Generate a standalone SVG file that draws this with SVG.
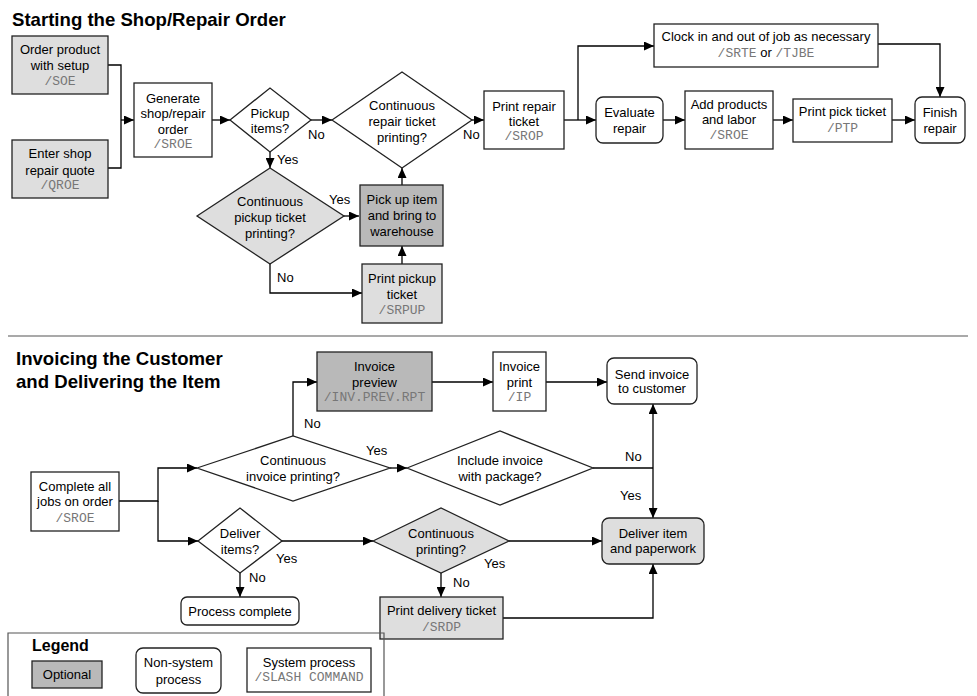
<svg xmlns="http://www.w3.org/2000/svg" width="977" height="696" viewBox="0 0 977 696">
<style>
.bg{fill:#ffffff}
.n{fill:#ffffff;stroke:#222;stroke-width:1.3}
.l{fill:#dedede;stroke:#222;stroke-width:1.3}
.d{fill:#b9b9b9;stroke:#222;stroke-width:1.3}
text{font-family:"Liberation Sans",Arial,sans-serif;font-size:13px;fill:#000}
.c{text-anchor:middle}
.m{font-family:"Liberation Mono","Courier New",monospace;font-size:13px;fill:#777}
.t{font-weight:bold;font-size:18.6px}
.lg{font-weight:bold;font-size:16px}
.e{fill:none;stroke:#000;stroke-width:1.3}
.sep{fill:none;stroke:#555;stroke-width:1.2}
</style>
<defs>
<marker id="a" markerUnits="userSpaceOnUse" markerWidth="11" markerHeight="9" refX="10" refY="4.5" orient="auto">
<path d="M0,0 L10,4.5 L0,9 z" fill="#000"/>
</marker>
</defs>
<rect class="bg" x="0" y="0" width="977" height="696"/>
<text class="t" x="12" y="26">Starting the Shop/Repair Order</text>
<text class="t" x="16" y="365">Invoicing the Customer</text>
<text class="t" x="16" y="388">and Delivering the Item</text>
<path class="sep" d="M8,336 H968"/>

<g id="connectors">
<path class="e" d="M108,65 H121 V168 H108"/>
<path class="e" d="M121,120 H134" marker-end="url(#a)"/>
<path class="e" d="M212,120 H230" marker-end="url(#a)"/>
<path class="e" d="M311,120 H332" marker-end="url(#a)"/>
<path class="e" d="M472,120 H484" marker-end="url(#a)"/>
<path class="e" d="M270,152 V168" marker-end="url(#a)"/>
<path class="e" d="M344,216 H359" marker-end="url(#a)"/>
<path class="e" d="M402,185 V168" marker-end="url(#a)"/>
<path class="e" d="M402,264 V246" marker-end="url(#a)"/>
<path class="e" d="M270,264 V293 H362" marker-end="url(#a)"/>
<path class="e" d="M564,120 H596" marker-end="url(#a)"/>
<path class="e" d="M578,120 V46 H654" marker-end="url(#a)"/>
<path class="e" d="M663,120 H685" marker-end="url(#a)"/>
<path class="e" d="M773,120 H793" marker-end="url(#a)"/>
<path class="e" d="M892,120 H915" marker-end="url(#a)"/>
<path class="e" d="M878,44 H940 V97" marker-end="url(#a)"/>

<path class="e" d="M119,501 H158 V468 H197" marker-end="url(#a)"/>
<path class="e" d="M158,501 V541 H198" marker-end="url(#a)"/>
<path class="e" d="M293,436 V382 H317" marker-end="url(#a)"/>
<path class="e" d="M432,382 H493" marker-end="url(#a)"/>
<path class="e" d="M546,382 H607" marker-end="url(#a)"/>
<path class="e" d="M390,468 H407" marker-end="url(#a)"/>
<path class="e" d="M593,468 H653"/>
<path class="e" d="M653,468 V404" marker-end="url(#a)"/>
<path class="e" d="M653,468 V518" marker-end="url(#a)"/>
<path class="e" d="M282,541 H373" marker-end="url(#a)"/>
<path class="e" d="M509,541 H602" marker-end="url(#a)"/>
<path class="e" d="M240,573 V597" marker-end="url(#a)"/>
<path class="e" d="M441,573 V597" marker-end="url(#a)"/>
<path class="e" d="M503,618 H653 V564" marker-end="url(#a)"/>

<text x="308" y="139">No</text>
<text x="463" y="139">No</text>
<text x="277" y="164">Yes</text>
<text x="329" y="204">Yes</text>
<text x="277" y="282">No</text>
<text x="304" y="428">No</text>
<text x="366" y="455">Yes</text>
<text x="625" y="461">No</text>
<text x="620" y="500">Yes</text>
<text x="276" y="563">Yes</text>
<text x="249" y="582">No</text>
<text x="484" y="568">Yes</text>
<text x="453" y="587">No</text>
</g>

<g id="soe">
<rect class="l" x="12" y="36" width="96" height="58"/>
<text class="c" x="60" y="54">Order product</text>
<text class="c" x="60" y="70">with setup</text>
<text class="c m" x="60" y="85">/SOE</text>
</g>
<g id="qroe">
<rect class="l" x="12" y="140" width="96" height="58"/>
<text class="c" x="60" y="158">Enter shop</text>
<text class="c" x="60" y="175">repair quote</text>
<text class="c m" x="60" y="189">/QROE</text>
</g>
<g id="generate">
<rect class="n" x="134" y="83" width="78" height="74"/>
<text class="c" x="173" y="103">Generate</text>
<text class="c" x="173" y="118">shop/repair</text>
<text class="c" x="173" y="134">order</text>
<text class="c m" x="173" y="148">/SROE</text>
</g>
<g id="pickup-items">
<polygon class="n" points="230,120 270,88 311,120 270,152"/>
<text class="c" x="270" y="118">Pickup</text>
<text class="c" x="270" y="133">items?</text>
</g>
<g id="cont-repair">
<polygon class="n" points="332,120 402,72 472,120 402,168"/>
<text class="c" x="402" y="110">Continuous</text>
<text class="c" x="402" y="126">repair ticket</text>
<text class="c" x="402" y="142">printing?</text>
</g>
<g id="cont-pickup">
<polygon class="l" points="197,216 270,168 344,216 270,264"/>
<text class="c" x="270" y="206">Continuous</text>
<text class="c" x="270" y="222">pickup ticket</text>
<text class="c" x="270" y="238">printing?</text>
</g>
<g id="pickup-item">
<rect class="d" x="360" y="185" width="83" height="61"/>
<text class="c" x="402" y="204">Pick up item</text>
<text class="c" x="402" y="220">and bring to</text>
<text class="c" x="402" y="236">warehouse</text>
</g>
<g id="print-pickup">
<rect class="l" x="362" y="264" width="80" height="59"/>
<text class="c" x="402" y="283">Print pickup</text>
<text class="c" x="402" y="299">ticket</text>
<text class="c m" x="402" y="314">/SRPUP</text>
</g>
<g id="print-repair">
<rect class="n" x="484" y="91" width="80" height="58"/>
<text class="c" x="524" y="111">Print repair</text>
<text class="c" x="524" y="126">ticket</text>
<text class="c m" x="524" y="140">/SROP</text>
</g>
<g id="clock">
<rect class="n" x="654" y="24" width="224" height="43"/>
<text class="c" x="766" y="41">Clock in and out of job as necessary</text>
<text class="c" x="766" y="57"><tspan class="m">/SRTE</tspan> or <tspan class="m">/TJBE</tspan></text>
</g>
<g id="evaluate">
<rect class="n" x="596" y="97" width="67" height="46" rx="7"/>
<text class="c" x="629.5" y="117">Evaluate</text>
<text class="c" x="629.5" y="133">repair</text>
</g>
<g id="add-products">
<rect class="n" x="685" y="91" width="88" height="58"/>
<text class="c" x="729" y="109">Add products</text>
<text class="c" x="729" y="124">and labor</text>
<text class="c m" x="729" y="139">/SROE</text>
</g>
<g id="print-pick">
<rect class="n" x="793" y="99" width="99" height="43"/>
<text class="c" x="842.5" y="116">Print pick ticket</text>
<text class="c m" x="842.5" y="132">/PTP</text>
</g>
<g id="finish">
<rect class="n" x="915" y="97" width="50" height="46" rx="7"/>
<text class="c" x="940" y="117">Finish</text>
<text class="c" x="940" y="133">repair</text>
</g>

<g id="complete-jobs">
<rect class="n" x="31" y="472" width="88" height="59"/>
<text class="c" x="75" y="491">Complete all</text>
<text class="c" x="75" y="506">jobs on order</text>
<text class="c m" x="75" y="522">/SROE</text>
</g>
<g id="cont-invoice">
<polygon class="n" points="197,468 293,436 390,468 293,501"/>
<text class="c" x="293" y="465">Continuous</text>
<text class="c" x="293" y="481">invoice printing?</text>
</g>
<g id="invoice-preview">
<rect class="d" x="317" y="352" width="115" height="59"/>
<text class="c" x="374.5" y="371">Invoice</text>
<text class="c" x="374.5" y="387">preview</text>
<text class="c m" x="374.5" y="401">/INV.PREV.RPT</text>
</g>
<g id="invoice-print">
<rect class="n" x="493" y="352" width="53" height="59"/>
<text class="c" x="519.5" y="371">Invoice</text>
<text class="c" x="519.5" y="387">print</text>
<text class="c m" x="519.5" y="401">/IP</text>
</g>
<g id="send-invoice">
<rect class="n" x="607" y="358" width="90" height="46" rx="7"/>
<text class="c" x="652" y="379">Send invoice</text>
<text class="c" x="652" y="393">to customer</text>
</g>
<g id="include-invoice">
<polygon class="n" points="407,468 500,431 593,468 500,505"/>
<text class="c" x="500" y="465">Include invoice</text>
<text class="c" x="500" y="481">with package?</text>
</g>
<g id="deliver-item">
<rect class="l" x="602" y="518" width="102" height="46" rx="7"/>
<text class="c" x="653" y="538">Deliver item</text>
<text class="c" x="653" y="553">and paperwork</text>
</g>
<g id="deliver-items">
<polygon class="n" points="198,541 240,508 282,541 240,573"/>
<text class="c" x="240" y="538">Deliver</text>
<text class="c" x="240" y="554">items?</text>
</g>
<g id="cont-printing">
<polygon class="l" points="373,541 441,508 509,541 441,573"/>
<text class="c" x="441" y="538">Continuous</text>
<text class="c" x="441" y="554">printing?</text>
</g>
<g id="process-complete">
<rect class="n" x="181" y="597" width="118" height="28" rx="6"/>
<text class="c" x="240" y="616">Process complete</text>
</g>
<g id="print-delivery">
<rect class="l" x="380" y="597" width="123" height="42"/>
<text class="c" x="441.5" y="615">Print delivery ticket</text>
<text class="c m" x="441.5" y="631">/SRDP</text>
</g>

<g id="legend">
<path class="sep" d="M8,697 V633 H384 V697" stroke="#222"/>
<text class="lg" x="32" y="651">Legend</text>
<rect class="d" x="32" y="661" width="70" height="27"/>
<text class="c" x="67" y="679">Optional</text>
<rect class="n" x="136" y="648" width="85" height="45" rx="7"/>
<text class="c" x="178.5" y="667">Non-system</text>
<text class="c" x="178.5" y="684">process</text>
<rect class="n" x="247" y="648" width="124" height="44"/>
<text class="c" x="309" y="667">System process</text>
<text class="c m" x="309" y="681">/SLASH COMMAND</text>
</g>
</svg>
